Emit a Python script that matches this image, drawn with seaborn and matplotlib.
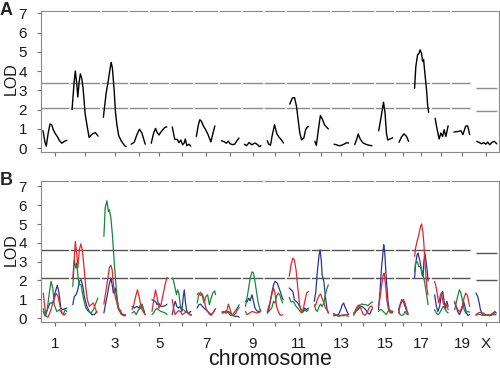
import numpy as np
import pandas as pd
import matplotlib
matplotlib.use('Agg')
import matplotlib.pyplot as plt
import seaborn as sns

# ---------------- data ----------------
chrom_names = [str(i) for i in range(1, 20)] + ['X']
chrom_len_cM = [96, 104, 92, 60, 64, 76, 80, 72, 68, 68, 80, 60, 60, 76, 60, 44, 60, 60, 64, 88]
gap_cM = 20
tick_labels = ['1', '', '3', '', '5', '', '7', '', '9', '', '11', '', '13', '', '15', '', '17', '', '19', 'X']
y_ticks = [0, 1, 2, 3, 4, 5, 6, 7]

thr_A_auto = [3.37, 2.07]
thr_A_X = [3.14, 1.93]
thr_B_auto = [3.6, 2.15]
thr_B_X = [3.46, 2.04]

# panel A: single LOD curve (positions in cM within chromosome)
A_pos = [
    [0, 8, 13, 21, 28, 35, 41, 49, 57, 65, 75, 85, 95],
    [0, 8, 13, 19, 23, 28, 33, 39, 44, 52, 60, 68, 80, 93, 104],
    [1, 12, 20, 28, 32, 37, 44, 49, 55, 62, 72, 86, 92],
    [0, 12, 23, 33, 43, 49, 56],
    [0, 9, 17, 24, 31, 38, 46, 54, 62],
    [0, 6, 10, 20, 27, 34, 41, 47, 52, 58, 66, 74],
    [0, 8, 14, 20, 28, 36, 46, 58, 66, 74],
    [0, 11, 20, 27, 35, 44, 53, 62, 70],
    [0, 8, 19, 29, 36, 43, 52, 60, 66],
    [3, 9, 16, 22, 32, 41, 48, 59, 68],
    [5, 15, 24, 32, 39, 45, 52, 61, 68, 75, 80],
    [5, 11, 19, 27, 35, 44, 55, 59],
    [2, 12, 21, 31, 41, 52, 60],
    [4, 12, 18, 26, 36, 48, 60, 73],
    [4, 15, 23, 29, 35, 40, 50, 60],
    [5, 15, 25, 35, 43],
    [3, 8, 15, 21, 25, 31, 35, 39, 44, 51, 55, 59],
    [5, 12, 21, 28, 35, 41, 48, 57],
    [0, 10, 20, 28, 36, 40, 47, 55, 63],
    [7, 17, 27, 35, 43, 51, 59, 67, 77, 87],
]
A_lod = [
    [0.9, 0.3, 0.1, 0.8, 1.25, 1.2, 0.95, 0.75, 0.6, 0.4, 0.25, 0.35, 0.4],
    [2.0, 3.4, 4.0, 3.3, 2.65, 3.4, 3.85, 3.6, 3.1, 1.8, 1.15, 0.55, 0.73, 0.8, 0.62],
    [1.6, 2.85, 3.45, 4.15, 4.45, 4.15, 3.0, 1.9, 1.2, 0.65, 0.38, 0.12, 0.08],
    [0.2, 0.3, 0.7, 0.98, 0.78, 0.5, 0.2],
    [0.25, 0.75, 1.02, 0.8, 0.68, 0.82, 0.95, 1.07, 1.1],
    [1.1, 0.7, 0.45, 0.45, 0.28, 0.42, 0.17, 0.25, 0.47, 0.12, 0.2, 0.1],
    [0.6, 1.2, 1.47, 1.4, 1.15, 0.98, 0.72, 0.32, 0.75, 1.15],
    [0.38, 0.33, 0.25, 0.36, 0.22, 0.18, 0.2, 0.38, 0.52],
    [0.2, 0.12, 0.29, 0.17, 0.22, 0.26, 0.18, 0.08, 0.12],
    [0.38, 0.2, 0.15, 0.6, 1.21, 0.75, 0.6, 0.43, 0.26],
    [2.28, 2.6, 2.62, 2.15, 1.4, 0.78, 0.43, 0.52, 0.95, 1.1, 1.12],
    [0.35, 0.14, 0.95, 1.69, 1.5, 1.2, 1.04, 1.0],
    [0.2, 0.17, 0.12, 0.14, 0.2, 0.28, 0.26],
    [0.18, 0.45, 0.73, 0.47, 0.28, 0.2, 0.15, 0.12],
    [0.9, 1.73, 2.38, 1.85, 0.75, 0.42, 0.48, 0.53],
    [0.3, 0.58, 0.74, 0.6, 0.35],
    [3.1, 4.23, 4.84, 4.92, 5.1, 4.92, 4.5, 4.6, 3.9, 3.0, 2.25, 1.85],
    [1.55, 1.04, 0.47, 0.78, 0.6, 0.95, 0.6, 1.16],
    [0.83, 0.85, 0.87, 0.9, 0.7, 0.86, 1.14, 1.15, 0.7],
    [0.35, 0.29, 0.22, 0.29, 0.2, 0.31, 0.17, 0.29, 0.35, 0.22],
]

# panel B: three curves
red_pos = [
    [1, 7, 12, 20, 28, 36, 44, 52, 60, 68, 76, 84, 92],
    [3, 9, 13, 19, 23, 29, 35, 41, 48, 55, 61, 69, 79, 85, 92, 99],
    [3, 11, 19, 25, 31, 36, 41, 48, 55, 61, 68, 77, 88],
    [3, 9, 16, 25, 33, 40, 47, 56],
    [3, 9, 17, 24, 31, 39, 47, 55, 63],
    [0, 5, 11, 17, 24, 32, 40, 50, 59, 68, 76],
    [3, 10, 17, 24, 31, 38, 45, 52, 59, 66, 73],
    [3, 10, 19, 28, 35, 41, 49, 58, 64, 71],
    [4, 10, 21, 30, 38, 49, 59, 65],
    [3, 9, 15, 21, 28, 34, 40, 47, 53, 59, 65],
    [3, 10, 17, 23, 30, 37, 44, 51, 58, 65, 72, 79],
    [3, 9, 15, 22, 28, 34, 41, 47, 54, 59],
    [0, 10, 20, 30, 40, 50, 60],
    [0, 8, 16, 22, 30, 38, 46, 54, 62, 70, 76],
    [3, 9, 15, 22, 26, 31, 37, 43, 50, 57],
    [3, 9, 16, 23, 29, 36, 41],
    [3, 7, 13, 20, 27, 31, 36, 40, 44, 49, 53, 57],
    [3, 10, 16, 20, 26, 30, 37, 44, 50, 57],
    [3, 9, 15, 22, 28, 35, 41, 47, 54, 60, 63],
    [4, 13, 22, 33, 43, 53, 62, 72, 83],
]
red_lod = [
    [1.33, 0.6, 0.1, 0.05, 0.3, 0.65, 0.98, 1.33, 1.15, 0.62, 0.27, 0.15, 0.25],
    [2.13, 3.2, 4.08, 3.37, 2.66, 3.63, 3.94, 3.63, 2.66, 1.6, 0.98, 0.62, 0.74, 0.8, 0.53, 0.27],
    [0.74, 1.42, 2.13, 2.7, 2.8, 2.57, 1.77, 1.15, 0.8, 0.44, 0.44, 0.18, 0.18],
    [0.44, 0.62, 1.06, 1.5, 1.06, 0.53, 0.35, 0.18],
    [0.35, 0.89, 1.5, 1.06, 0.53, 0.71, 1.24, 1.77, 2.16],
    [0.98, 0.53, 0.18, 0.27, 0.39, 0.35, 0.18, 0.27, 0.35, 0.18, 0.14],
    [1.24, 1.33, 1.2, 1.28, 0.98, 0.53, 0.35, 0.21, 0.14, 0.27, 0.39],
    [0.27, 0.35, 0.27, 0.74, 0.44, 0.18, 0.14, 0.27, 0.44, 0.57],
    [0.35, 0.18, 0.27, 0.35, 0.32, 0.27, 0.3, 0.35],
    [0.35, 0.62, 0.89, 1.24, 1.6, 1.33, 0.62, 0.35, 0.18, 0.14, 0.18],
    [2.22, 2.84, 3.19, 3.1, 2.57, 1.6, 0.71, 0.35, 0.44, 0.89, 1.33, 1.42],
    [0.62, 0.71, 0.98, 1.2, 1.28, 1.06, 0.8, 0.53, 0.44, 0.27],
    [0.2, 0.15, 0.12, 0.15, 0.12, 0.18, 0.2],
    [0.2, 0.45, 0.65, 0.7, 0.45, 0.2, 0.15, 0.3, 0.55, 0.65, 0.55],
    [0.62, 1.06, 1.68, 2.3, 2.39, 1.77, 0.89, 0.44, 0.27, 0.39],
    [0.27, 0.62, 0.89, 0.98, 0.8, 0.44, 0.18],
    [3.28, 3.72, 4.08, 4.43, 4.88, 5.0, 4.61, 3.99, 3.01, 2.13, 1.5, 1.24],
    [1.95, 1.6, 1.06, 0.8, 1.24, 1.33, 0.8, 0.62, 0.8, 0.44],
    [0.89, 0.62, 0.44, 0.35, 0.44, 0.71, 1.1, 1.33, 1.2, 0.8, 0.62],
    [0.18, 0.27, 0.3, 0.27, 0.18, 0.14, 0.18, 0.27, 0.18],
]

green_pos = [
    [1, 8, 17, 25, 32, 39, 45, 55, 65, 75, 81, 88, 95],
    [3, 9, 15, 19, 24, 29, 36, 45, 55, 65, 76, 85, 95, 103],
    [3, 8, 15, 21, 25, 31, 37, 44, 51, 57, 64, 71, 81, 89],
    [3, 12, 20, 29, 39, 44, 49, 56],
    [3, 9, 17, 23, 29, 39, 47, 56, 63],
    [0, 5, 11, 17, 21, 26, 32, 38, 45, 52, 62, 71, 76],
    [3, 10, 17, 24, 31, 38, 45, 52, 59, 66, 73, 77],
    [3, 10, 19, 28, 36, 45, 54, 62, 71],
    [4, 10, 17, 23, 30, 33, 36, 42, 49, 55, 62, 65],
    [3, 9, 15, 21, 28, 34, 40, 47, 53, 59, 65],
    [3, 10, 17, 23, 30, 37, 44, 51, 58, 65, 72, 79],
    [3, 9, 15, 22, 28, 34, 41, 47, 54, 59],
    [0, 10, 20, 30, 40, 50, 60],
    [0, 8, 16, 24, 32, 40, 48, 56, 64, 72, 76],
    [3, 9, 15, 22, 28, 34, 41, 47, 54, 60],
    [3, 9, 16, 23, 29, 36, 41],
    [3, 7, 13, 20, 27, 33, 40, 47, 53, 57],
    [3, 10, 16, 23, 30, 37, 44, 50, 57],
    [3, 9, 15, 22, 28, 35, 41, 47, 54, 60, 63],
    [4, 13, 22, 33, 43, 53, 62, 72, 83],
]
green_lod = [
    [0.5, 0.1, 0.44, 1.33, 1.95, 1.6, 0.7, 0.35, 0.44, 0.27, 0.18, 0.44, 0.35],
    [1.68, 3.1, 2.66, 2.93, 2.13, 1.77, 1.77, 1.06, 0.53, 0.35, 0.27, 0.44, 0.8, 1.06],
    [4.34, 5.85, 6.24, 5.67, 5.76, 5.32, 4.43, 3.0, 1.77, 0.89, 0.44, 0.21, 0.14, 0.18],
    [0.27, 0.35, 0.18, 0.44, 0.53, 0.74, 0.44, 0.18],
    [0.18, 0.27, 0.44, 0.53, 0.44, 0.35, 0.32, 0.27, 0.18],
    [2.13, 1.99, 1.6, 1.24, 1.5, 1.33, 0.71, 0.44, 0.44, 0.35, 0.27, 0.21, 0.18],
    [0.8, 1.24, 1.38, 1.15, 0.8, 1.15, 1.24, 0.71, 1.06, 1.33, 1.45, 1.24],
    [0.35, 0.27, 0.39, 0.27, 0.14, 0.18, 0.35, 0.5, 0.71],
    [0.62, 1.06, 1.6, 2.13, 2.45, 2.45, 2.39, 1.95, 1.33, 0.8, 0.44, 0.39],
    [0.27, 0.35, 0.44, 0.53, 0.89, 0.8, 1.15, 1.33, 1.24, 0.98, 0.8],
    [1.1, 0.85, 0.89, 0.8, 0.62, 0.53, 0.39, 0.27, 0.32, 0.44, 0.35, 0.44],
    [0.71, 0.44, 0.35, 0.62, 0.74, 0.62, 0.8, 1.24, 1.6, 1.77],
    [0.25, 0.15, 0.1, 0.12, 0.18, 0.12, 0.1],
    [0.14, 0.35, 0.55, 0.65, 0.75, 0.72, 0.72, 0.65, 0.75, 0.85, 0.85],
    [0.35, 0.44, 0.44, 0.35, 0.27, 0.18, 0.35, 0.44, 0.35, 0.27],
    [0.44, 0.18, 0.14, 0.18, 0.35, 0.21, 0.18],
    [2.48, 2.93, 3.01, 2.75, 2.7, 2.48, 2.13, 1.6, 1.06, 0.71],
    [0.44, 0.27, 0.18, 0.27, 0.44, 0.62, 0.53, 0.35, 0.27],
    [0.44, 0.8, 1.15, 1.5, 1.33, 0.89, 0.44, 0.27, 0.35, 0.32, 0.32],
    [0.14, 0.21, 0.18, 0.14, 0.18, 0.18, 0.14, 0.18, 0.18],
]

blue_pos = [
    [1, 8, 17, 28, 39, 48, 57, 64, 71, 79, 87, 95],
    [3, 9, 16, 23, 29, 36, 43, 49, 59, 69, 79, 89, 99],
    [3, 9, 17, 24, 31, 36, 41, 48, 55, 61, 71, 81, 89],
    [3, 12, 23, 31, 39, 45, 52],
    [3, 9, 17, 23, 29, 39, 47, 56, 63],
    [0, 6, 12, 18, 24, 32, 38, 44, 48, 52, 58, 64, 74],
    [3, 10, 17, 24, 31, 38, 45, 52, 59, 66, 73, 77],
    [3, 10, 19, 28, 36, 45, 54, 64, 71],
    [4, 10, 17, 23, 30, 36, 42, 49, 55, 62, 65],
    [3, 9, 15, 21, 28, 34, 43, 50, 57, 63, 67],
    [3, 10, 17, 23, 30, 37, 44, 51, 58, 65, 72, 79],
    [3, 9, 15, 22, 26, 31, 34, 41, 47, 54, 59],
    [0, 10, 20, 28, 34, 40, 45, 50, 55, 60],
    [0, 8, 16, 24, 32, 40, 48, 56, 64, 72, 76],
    [3, 9, 15, 22, 24, 28, 34, 41, 47, 54, 60],
    [3, 9, 16, 23, 29, 36, 41],
    [3, 7, 13, 17, 23, 27, 33, 37, 40, 44, 47, 53, 57],
    [3, 10, 16, 23, 30, 35, 41, 46, 52, 57],
    [3, 9, 15, 22, 28, 35, 38, 44, 50, 56, 63],
    [4, 11, 17, 22, 30, 39, 49, 59, 70, 79, 85],
]
blue_lod = [
    [0.35, 0.14, 0.44, 0.8, 0.8, 1.33, 1.74, 1.33, 0.53, 0.44, 0.5, 0.53],
    [0.71, 1.15, 1.24, 1.5, 1.95, 2.04, 1.68, 1.15, 0.62, 0.35, 0.18, 0.18, 0.35],
    [0.27, 0.71, 1.24, 1.77, 2.13, 1.77, 1.33, 1.6, 1.06, 0.53, 0.27, 0.14, 0.12],
    [0.62, 0.53, 0.62, 0.53, 0.74, 0.62, 0.35],
    [0.98, 0.92, 0.89, 0.71, 0.8, 0.62, 0.62, 0.66, 0.74],
    [0.18, 0.62, 0.89, 0.62, 0.53, 0.62, 0.35, 1.15, 1.5, 0.89, 0.35, 0.27, 0.35],
    [0.53, 0.71, 0.74, 0.62, 0.53, 0.44, 0.35, 0.27, 0.18, 0.27, 0.44, 0.5],
    [0.27, 0.32, 0.27, 0.35, 0.27, 0.14, 0.09, 0.09, 0.04],
    [0.89, 0.85, 1.06, 0.92, 1.24, 0.89, 0.53, 0.39, 0.35, 0.35, 0.44],
    [0.27, 0.44, 0.89, 1.33, 1.77, 1.95, 1.86, 1.6, 1.33, 1.06, 0.98],
    [1.6, 1.5, 1.42, 0.98, 0.89, 0.8, 0.62, 0.44, 0.35, 0.53, 0.44, 0.53],
    [0.89, 1.42, 2.48, 3.37, 3.63, 3.01, 2.3, 1.95, 1.15, 0.44, 0.27],
    [0.12, 0.15, 0.2, 0.45, 0.7, 0.8, 0.6, 0.45, 0.3, 0.18],
    [0.27, 0.35, 0.44, 0.55, 0.62, 0.55, 0.44, 0.27, 0.2, 0.45, 0.5],
    [0.44, 1.42, 2.66, 3.63, 3.9, 3.46, 2.13, 0.89, 0.35, 0.27, 0.35],
    [0.44, 0.71, 0.98, 0.85, 0.62, 0.35, 0.27],
    [2.13, 2.84, 3.37, 3.46, 3.1, 2.84, 2.3, 2.22, 3.0, 3.46, 3.19, 2.57, 1.95],
    [1.24, 0.62, 0.35, 0.62, 1.24, 1.42, 0.89, 0.44, 0.89, 0.62],
    [0.8, 0.62, 0.35, 0.18, 0.35, 0.62, 0.92, 0.62, 0.27, 0.14, 0.18],
    [1.33, 1.15, 0.8, 0.44, 0.18, 0.14, 0.18, 0.12, 0.21, 0.35, 0.27],
]

# ---------------- layout helpers ----------------
lens = np.array(chrom_len_cM, dtype=float)
offsets = np.concatenate([[0.0], np.cumsum(lens[:-1] + gap_cM)])
centers = offsets + lens / 2.0
bounds = offsets[1:19] - gap_cM / 2.0
auto_end = offsets[18] + lens[18]
x_start, x_end = offsets[19], offsets[19] + lens[19]
XLIM = (-8, offsets[-1] + lens[-1] + 6)


def make_frame(pos_lists, lod_lists, label):
    rows = []
    for i, (ps, ls) in enumerate(zip(pos_lists, lod_lists)):
        for p, l in zip(ps, ls):
            rows.append((label, chrom_names[i], offsets[i] + p, l))
    return pd.DataFrame(rows, columns=['series', 'chrom', 'x', 'lod'])


dfA = make_frame(A_pos, A_lod, 'A')
dfB = pd.concat([make_frame(blue_pos, blue_lod, 'blue'),
                 make_frame(green_pos, green_lod, 'green'),
                 make_frame(red_pos, red_lod, 'red')], ignore_index=True)

palette = {'red': '#e3262b', 'green': '#17873b', 'blue': '#26369e'}

# ---------------- plotting ----------------
sns.set_theme(style='white')
plt.rcParams['font.family'] = ['Liberation Sans', 'DejaVu Sans']

fig = plt.figure(figsize=(5.0, 3.71), dpi=100)
axA = fig.add_axes([0.082, 0.590, 0.915, 0.381])
axB = fig.add_axes([0.082, 0.1321, 0.915, 0.380])

spine_col = '#8a8a8a'


def style_axis(ax, ylim, thr_auto, thr_x, thr_col):
    ax.set_xlim(*XLIM)
    ax.set_ylim(*ylim)
    ax.hlines(thr_auto, XLIM[0], auto_end, colors=thr_col, lw=1.0, zorder=2)
    ax.hlines(thr_x, x_start + 4, x_end, colors=thr_col, lw=1.0, zorder=2)
    ax.vlines(bounds, 1.6, ylim[1] + 0.12, colors='white', lw=1.1, zorder=2.7, clip_on=False)
    ax.set_yticks(y_ticks)
    ax.set_xticks(centers)
    for s in ax.spines.values():
        s.set_color(spine_col)
        s.set_linewidth(0.8)
    ax.tick_params(axis='both', which='both', bottom=True, left=True, direction='out',
                   length=3.1, width=0.8, color='#707070', labelsize=11, labelcolor='#1a1a1a')
    ax.tick_params(axis='y', pad=7)
    ax.tick_params(axis='x', pad=7.5)
    ax.set_xlabel('')
    ax.set_ylabel('')


sns.lineplot(data=dfA, x='x', y='lod', units='chrom', estimator=None, sort=False,
             color='black', lw=1.0, ax=axA, legend=False, zorder=3)
style_axis(axA, (-0.21, 7.13), thr_A_auto, thr_A_X, '#8c8c8c')
axA.set_xticklabels([])

sns.lineplot(data=dfB, x='x', y='lod', hue='series', units='chrom', estimator=None, sort=False,
             palette=palette, hue_order=['blue', 'green', 'red'], lw=0.9, ax=axB,
             legend=False, zorder=3)
style_axis(axB, (-0.21, 7.29), thr_B_auto, thr_B_X, '#555555')
axB.set_xticklabels(tick_labels)

fig.text(0.0, 1 - 15.0 / 371, 'A', fontsize=13, fontweight='bold', ha='left', va='baseline')
fig.text(0.0, 1 - 185.0 / 371, 'B', fontsize=13, fontweight='bold', ha='left', va='baseline')
fig.text(11.0 / 500, 1 - 79.0 / 371, 'LOD', rotation=90, fontsize=11.5, ha='center', va='center', color='#1a1a1a')
fig.text(11.0 / 500, 1 - 250.0 / 371, 'LOD', rotation=90, fontsize=11.5, ha='center', va='center', color='#1a1a1a')
fig.text(0.541, 0.002, 'chromosome', fontsize=15.5, ha='center', va='bottom', color='#1a1a1a')

fig.savefig('out.png', dpi=100)
